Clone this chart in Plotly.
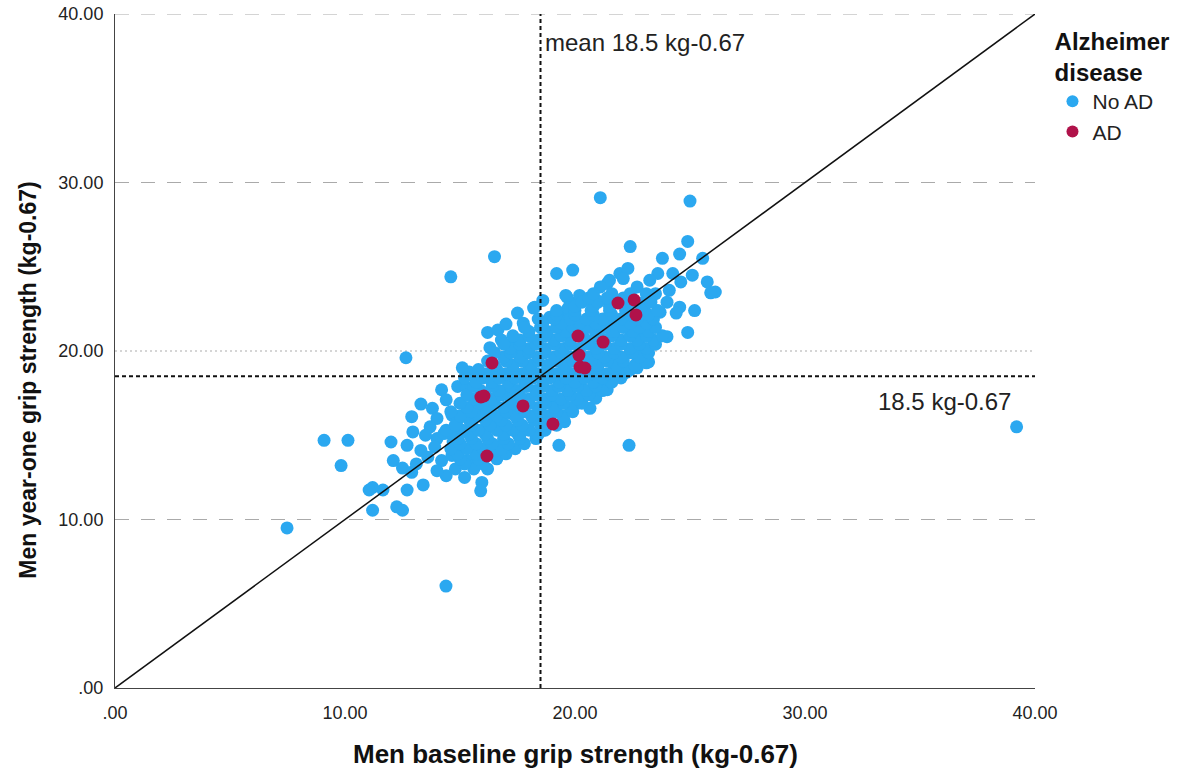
import plotly.graph_objects as go

# ---------------- data ----------------
x_tick_vals = [0, 10, 20, 30, 40]
x_tick_text = [".00", "10.00", "20.00", "30.00", "40.00"]
y_tick_vals = [0, 10, 20, 30, 40]
y_tick_text = [".00", "10.00", "20.00", "30.00", "40.00"]

mean_value = 18.5

# AD group (baseline, year-one)
ad_x = [16.39, 15.91, 16.04, 17.74, 19.04, 16.17, 20.13, 20.17, 20.22, 20.43,
        21.22, 21.87, 22.57, 22.65]
ad_y = [19.29, 17.27, 17.33, 16.74, 15.67, 13.77, 20.89, 19.76, 19.05, 18.99,
        20.53, 22.85, 23.03, 22.14]

# No AD group: outliers and edge points
no_ad_outliers = [
    (7.48, 9.5), (9.09, 14.7), (10.13, 14.7), (9.83, 13.2), (14.39, 6.05),
    (14.6, 24.4), (16.5, 25.6), (12.65, 19.6), (21.1, 29.1), (25.0, 28.9),
    (39.2, 15.5), (22.35, 14.4), (19.3, 14.4),
]
no_ad_lower_left = [
    (14.2, 17.7), (14.9, 17.9), (15.3, 17.8), (13.3, 16.85), (12.9, 16.1),
    (13.8, 16.6), (14.4, 17.1), (14.0, 16.0), (14.65, 16.2), (13.7, 15.5),
    (12.95, 15.2), (12.0, 14.6), (12.7, 14.4), (14.0, 14.8), (13.3, 14.1),
    (12.1, 13.5), (12.5, 13.05), (12.9, 12.8), (13.6, 13.7), (14.2, 13.5),
    (14.65, 13.8), (15.35, 13.5), (14.4, 12.6), (15.2, 12.5), (15.95, 12.2),
    (13.4, 12.05), (12.7, 11.75), (11.65, 11.75), (11.2, 11.9), (12.25, 10.75),
    (12.5, 10.55), (11.2, 10.55), (16.0, 15.3), (16.4, 15.5), (15.9, 16.5),
    (15.4, 16.0), (17.2, 16.3), (17.5, 15.1), (16.9, 14.7), (16.3, 16.3),
    (14.9, 15.9), (17.0, 17.7), (11.05, 11.75), (15.9, 11.7), (14.3, 15.1),
    (13.5, 15.0), (13.9, 14.3), (14.7, 14.6), (13.1, 13.3), (14.0, 12.9),
]
no_ad_upper = [
    (16.2, 21.1), (16.65, 21.25), (16.3, 20.2), (16.8, 20.65), (17.5, 22.25),
    (17.75, 21.65), (18.25, 22.6), (15.9, 18.7), (15.4, 18.75), (17.3, 20.5),
    (17.6, 19.9), (19.2, 24.6), (19.9, 24.8), (19.6, 23.3), (19.9, 22.85),
    (19.6, 22.3), (19.65, 23.2), (20.2, 23.3), (19.7, 22.55), (18.2, 22.55),
    (18.9, 22.0), (21.4, 24.0), (21.95, 24.6), (22.3, 23.0), (20.95, 23.0),
    (20.65, 22.0), (21.5, 21.85), (15.1, 19.0), (17.0, 21.6), (18.6, 23.0),
]
no_ad_upper_right = [
    (22.4, 26.2), (24.9, 26.5), (24.55, 25.75), (23.8, 25.5), (25.55, 25.5),
    (22.3, 24.9), (23.6, 24.6), (24.25, 24.6), (25.1, 24.5), (25.75, 24.1),
    (26.1, 23.5), (25.9, 23.45), (23.25, 24.2), (21.5, 24.2), (21.1, 23.8),
    (22.7, 23.8), (24.1, 23.6), (24.55, 22.6), (24.4, 22.25), (23.7, 22.3),
    (24.9, 21.1), (24.0, 20.85), (22.95, 21.25), (23.4, 21.85), (25.2, 22.4),
    (22.8, 20.8), (22.25, 18.75), (22.7, 19.3), (23.2, 19.35), (22.4, 19.9),
    (22.95, 20.05), (23.0, 22.9), (24.6, 24.1), (23.5, 23.4), (24.0, 22.9),
    (22.1, 24.3),
]
no_ad_lower_right = [
    (19.65, 17.85), (20.35, 17.7), (20.65, 16.6), (21.4, 17.7), (19.55, 15.8),
    (21.8, 19.3), (22.7, 19.0), (23.1, 19.3), (20.1, 16.9), (19.2, 17.1),
    (21.9, 18.8), (21.3, 18.2), (18.6, 15.3), (20.9, 17.2),
]
no_ad_core = [
    (14.8, 13.0), (15.6, 13.0), (16.2, 13.0),
    (15.2, 13.3), (16.0, 13.3),
    (15.0, 13.6), (15.8, 13.6), (16.6, 13.6),
    (14.9, 13.9), (15.7, 13.9), (16.4, 13.9), (17.0, 13.9),
    (14.6, 14.2), (15.3, 14.2), (16.0, 14.2), (16.8, 14.2), (17.4, 14.2),
    (15.0, 14.5), (15.7, 14.5), (16.4, 14.5), (17.1, 14.5), (17.8, 14.5),
    (14.9, 14.8), (15.5, 14.8), (16.2, 14.8), (16.9, 14.8), (17.6, 14.8), (18.3, 14.8),
    (14.7, 15.05), (15.4, 15.05), (16.1, 15.05), (16.9, 15.05), (17.6, 15.05), (18.4, 15.05),
    (14.4, 15.3), (15.1, 15.3), (15.8, 15.3), (16.6, 15.3), (17.3, 15.3), (18.0, 15.3), (18.7, 15.3),
    (14.8, 15.6), (15.5, 15.6), (16.3, 15.6), (17.0, 15.6), (17.7, 15.6), (18.5, 15.6), (19.2, 15.6),
    (15.4, 15.9), (16.1, 15.9), (16.8, 15.9), (17.5, 15.9), (18.2, 15.9), (18.9, 15.9), (19.5, 15.9),
    (15.0, 16.15), (15.8, 16.15), (16.6, 16.15), (17.4, 16.15), (18.1, 16.15), (18.8, 16.15), (19.5, 16.15),
    (14.6, 16.4), (15.5, 16.4), (16.3, 16.4), (17.0, 16.4), (17.8, 16.4), (18.5, 16.4), (19.2, 16.4), (19.9, 16.4),
    (15.3, 16.65), (16.1, 16.65), (16.9, 16.65), (17.6, 16.65), (18.4, 16.65), (19.1, 16.65), (19.8, 16.65),
    (15.0, 16.9), (15.8, 16.9), (16.5, 16.9), (17.3, 16.9), (18.0, 16.9), (18.7, 16.9), (19.5, 16.9), (20.3, 16.9),
    (15.6, 17.15), (16.4, 17.15), (17.2, 17.15), (18.0, 17.15), (18.7, 17.15), (19.4, 17.15), (20.1, 17.15),
    (15.3, 17.4), (16.1, 17.4), (16.8, 17.4), (17.6, 17.4), (18.3, 17.4), (19.0, 17.4), (19.8, 17.4), (20.6, 17.4),
    (15.9, 17.65), (16.7, 17.65), (17.5, 17.65), (18.3, 17.65), (19.0, 17.65), (19.7, 17.65), (20.5, 17.65), (21.2, 17.65),
    (15.6, 17.9), (16.4, 17.9), (17.2, 17.9), (17.9, 17.9), (18.6, 17.9), (19.3, 17.9), (20.1, 17.9), (20.9, 17.9),
    (15.7, 18.15), (16.4, 18.15), (17.1, 18.15), (17.8, 18.15), (18.6, 18.15), (19.3, 18.15), (20.0, 18.15), (20.8, 18.15), (21.6, 18.15),
    (15.2, 18.4), (16.0, 18.4), (16.7, 18.4), (17.4, 18.4), (18.2, 18.4), (18.9, 18.4), (19.6, 18.4), (20.4, 18.4), (21.2, 18.4), (22.0, 18.4),
    (16.2, 18.65), (17.0, 18.65), (17.7, 18.65), (18.4, 18.65), (19.2, 18.65), (19.9, 18.65), (20.7, 18.65), (21.4, 18.65), (22.1, 18.65),
    (15.8, 18.9), (16.6, 18.9), (17.3, 18.9), (18.0, 18.9), (18.8, 18.9), (19.5, 18.9), (20.3, 18.9), (21.0, 18.9), (21.7, 18.9), (22.4, 18.9),
    (16.5, 19.15), (17.3, 19.15), (18.1, 19.15), (18.8, 19.15), (19.6, 19.15), (20.3, 19.15), (21.0, 19.15), (21.8, 19.15), (22.6, 19.15),
    (16.2, 19.4), (17.0, 19.4), (17.7, 19.4), (18.4, 19.4), (19.2, 19.4), (19.9, 19.4), (20.7, 19.4), (21.4, 19.4), (22.1, 19.4),
    (16.9, 19.65), (17.6, 19.65), (18.4, 19.65), (19.1, 19.65), (19.8, 19.65), (20.6, 19.65), (21.3, 19.65), (22.0, 19.65), (22.8, 19.65),
    (16.5, 19.9), (17.2, 19.9), (18.0, 19.9), (18.7, 19.9), (19.4, 19.9), (20.2, 19.9), (21.0, 19.9), (21.7, 19.9), (22.5, 19.9), (23.2, 19.9),
    (17.2, 20.15), (18.0, 20.15), (18.7, 20.15), (19.5, 20.15), (20.2, 20.15), (20.9, 20.15), (21.7, 20.15), (22.4, 20.15), (23.1, 20.15),
    (16.9, 20.4), (17.6, 20.4), (18.3, 20.4), (19.1, 20.4), (19.8, 20.4), (20.6, 20.4), (21.3, 20.4), (22.0, 20.4), (22.8, 20.4), (23.5, 20.4),
    (17.6, 20.65), (18.4, 20.65), (19.1, 20.65), (19.8, 20.65), (20.5, 20.65), (21.3, 20.65), (22.0, 20.65), (22.7, 20.65), (23.4, 20.65),
    (17.3, 20.9), (18.0, 20.9), (18.7, 20.9), (19.4, 20.9), (20.2, 20.9), (20.9, 20.9), (21.6, 20.9), (22.4, 20.9), (23.1, 20.9), (23.8, 20.9),
    (18.0, 21.15), (18.8, 21.15), (19.6, 21.15), (20.3, 21.15), (21.0, 21.15), (21.7, 21.15), (22.5, 21.15), (23.2, 21.15),
    (17.8, 21.4), (18.5, 21.4), (19.2, 21.4), (19.9, 21.4), (20.6, 21.4), (21.3, 21.4), (22.1, 21.4), (22.8, 21.4), (23.5, 21.4),
    (18.6, 21.65), (19.4, 21.65), (20.2, 21.65), (20.9, 21.65), (21.6, 21.65), (22.4, 21.65), (23.1, 21.65),
    (18.4, 21.9), (19.1, 21.9), (19.8, 21.9), (20.5, 21.9), (21.2, 21.9), (22.0, 21.9), (22.7, 21.9), (23.4, 21.9),
    (19.2, 22.15), (20.0, 22.15), (20.8, 22.15), (21.6, 22.15), (22.4, 22.15), (23.2, 22.15),
    (19.2, 22.4), (20.0, 22.4), (20.7, 22.4), (21.5, 22.4), (22.2, 22.4), (23.0, 22.4), (23.6, 22.4),
    (20.0, 22.65), (20.8, 22.65), (21.5, 22.65), (22.2, 22.65), (22.9, 22.65),
    (20.3, 22.9), (21.0, 22.9), (21.8, 22.9), (22.6, 22.9), (23.3, 22.9),
    (20.6, 23.15), (21.4, 23.15), (22.1, 23.15),
    (20.8, 23.4), (21.6, 23.4), (22.4, 23.4), (23.1, 23.4),
]

no_ad_points = (no_ad_outliers + no_ad_lower_left + no_ad_upper + no_ad_upper_right
                + no_ad_lower_right + no_ad_core)
no_ad_x = [p[0] for p in no_ad_points]
no_ad_y = [p[1] for p in no_ad_points]

# ---------------- styling ----------------
BLUE = "#2BA8F0"
RED = "#B0124A"
FONT = "Liberation Sans, Arial, sans-serif"
TXT = "#222222"

fig = go.Figure()
fig.add_trace(go.Scatter(
    x=no_ad_x, y=no_ad_y, mode="markers", name="No AD",
    marker=dict(color=BLUE, size=13, line=dict(width=0)),
))
fig.add_trace(go.Scatter(
    x=ad_x, y=ad_y, mode="markers", name="AD",
    marker=dict(color=RED, size=13, line=dict(width=0)),
))

shapes = []
# grid lines
for gy in [10, 30, 40]:
    shapes.append(dict(type="line", xref="x", yref="y", x0=0, x1=40, y0=gy, y1=gy,
                       line=dict(color="#aaaaaa", width=1, dash="14px,12px"), layer="below"))
shapes.append(dict(type="line", xref="x", yref="y", x0=0, x1=40, y0=20, y1=20,
                   line=dict(color="#c8c8c8", width=1.5, dash="2px,3px"), layer="below"))
# reference lines
shapes.append(dict(type="line", xref="x", yref="y", x0=0, x1=40, y0=0, y1=40,
                   line=dict(color="#111111", width=1.5), layer="above"))
shapes.append(dict(type="line", xref="x", yref="y", x0=mean_value, x1=mean_value, y0=0, y1=40,
                   line=dict(color="#111111", width=2, dash="4px,3px"), layer="above"))
shapes.append(dict(type="line", xref="x", yref="y", x0=0, x1=40, y0=mean_value, y1=mean_value,
                   line=dict(color="#111111", width=2, dash="4px,3px"), layer="above"))

annotations = [
    dict(x=mean_value, y=38.3, xref="x", yref="y", text="mean 18.5 kg-0.67",
         showarrow=False, xanchor="left", yanchor="middle", xshift=2,
         font=dict(family=FONT, size=24, color=TXT)),
    dict(x=39.05, y=17.0, xref="x", yref="y", text="18.5 kg-0.67",
         showarrow=False, xanchor="right", yanchor="middle",
         font=dict(family=FONT, size=24, color=TXT)),
    # axis titles
    dict(x=0.5, y=-0.098, xref="paper", yref="paper",
         text="<b>Men baseline grip strength (kg-0.67)</b>",
         showarrow=False, xanchor="center", yanchor="middle",
         font=dict(family=FONT, size=26, color="#111111")),
    dict(x=-0.0945, y=0.456, xref="paper", yref="paper",
         text="<b>Men year-one grip strength (kg-0.67)</b>", textangle=-90,
         showarrow=False, xanchor="center", yanchor="middle",
         font=dict(family=FONT, size=23, color="#111111")),
]

fig.update_layout(
    width=1189, height=778,
    margin=dict(l=115, r=154, t=14, b=90),
    paper_bgcolor="white", plot_bgcolor="white",
    font=dict(family=FONT, color=TXT),
    shapes=shapes, annotations=annotations,
    showlegend=True,
    legend=dict(
        x=1.019, y=0.993, xanchor="left", yanchor="top",
        title=dict(text="<b>Alzheimer<br>disease</b>", side="top center",
                   font=dict(family=FONT, size=24, color="#111111")),
        font=dict(family=FONT, size=21, color=TXT),
        itemsizing="constant", tracegroupgap=0, bgcolor="rgba(0,0,0,0)",
    ),
    xaxis=dict(
        range=[0, 40], tickvals=x_tick_vals, ticktext=x_tick_text, automargin=False,
        showgrid=False, zeroline=False, showline=True, linecolor="#444444", linewidth=1,
        ticks="outside", ticklen=8, tickcolor="rgba(0,0,0,0)", ticklabeloverflow="allow",
        tickfont=dict(family=FONT, size=18, color=TXT),
    ),
    yaxis=dict(
        range=[0, 40], tickvals=y_tick_vals, ticktext=y_tick_text, automargin=False,
        showgrid=False, zeroline=False, showline=True, linecolor="#444444", linewidth=1,
        ticks="outside", ticklen=7, tickcolor="rgba(0,0,0,0)", ticklabeloverflow="allow",
        tickfont=dict(family=FONT, size=18, color=TXT),
    ),
)

# remove the page's default 8px body margin so the figure fills the window exactly
fig.write_html("out.html", config={"displayModeBar": False},
               post_script="document.body.style.margin='0px';")
